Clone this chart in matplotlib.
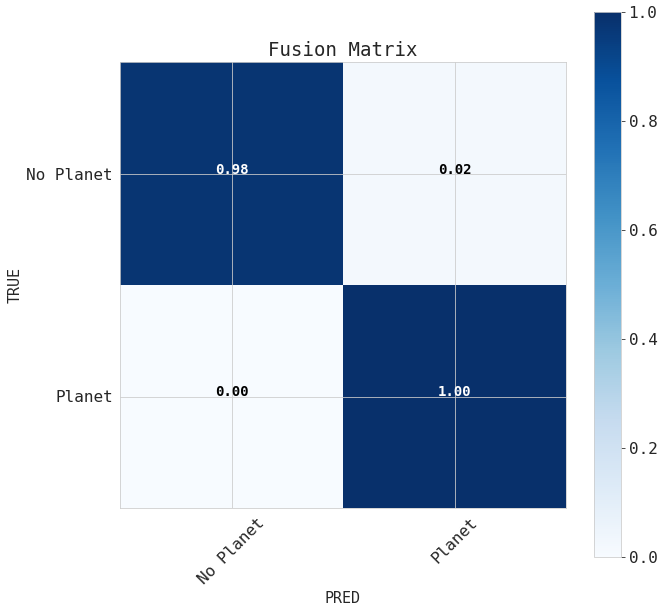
import matplotlib.pyplot as plt
import numpy as np
import seaborn as sns

classes = ["No Planet", "Planet"]
cm = np.array([[0.98, 0.02],
               [0.00, 1.00]])

sns.set_style("whitegrid")
plt.rcParams['font.family'] = ['DejaVu Sans Mono']

fig = plt.figure(figsize=(664 / 72, 613 / 72), dpi=72)
ax = fig.add_axes([120 / 664, 1 - 508 / 613, 446 / 664, 446 / 613])
cax = fig.add_axes([594 / 664, 1 - 557 / 613, 27 / 664, 545 / 613])

im = ax.imshow(cm, interpolation='nearest', cmap=plt.cm.Blues, vmin=0, vmax=1)
ax.set_title("Fusion Matrix", fontsize=19, color='#262626')
cb = fig.colorbar(im, cax=cax)
cb.ax.tick_params(labelsize=16, length=4, color='#262626', labelcolor='#262626')
cb.outline.set_edgecolor('.8')

ticks = np.arange(len(classes))
ax.set_xticks(ticks)
ax.set_xticklabels(classes, rotation=45, fontsize=16, color='#262626')
ax.set_yticks(ticks)
ax.set_yticklabels(classes, fontsize=16, color='#262626')

thresh = cm.max() / 2.
for i in range(cm.shape[0]):
    for j in range(cm.shape[1]):
        ax.text(j, i, format(cm[i, j], '.2f'), ha='center',
                color='white' if cm[i, j] > thresh else 'black',
                fontsize=14, fontweight='bold')

ax.set_ylabel('TRUE', fontsize=15, color='#262626')
ax.set_xlabel('PRED', fontsize=15, color='#262626')

fig.savefig('out.png', dpi=72)
